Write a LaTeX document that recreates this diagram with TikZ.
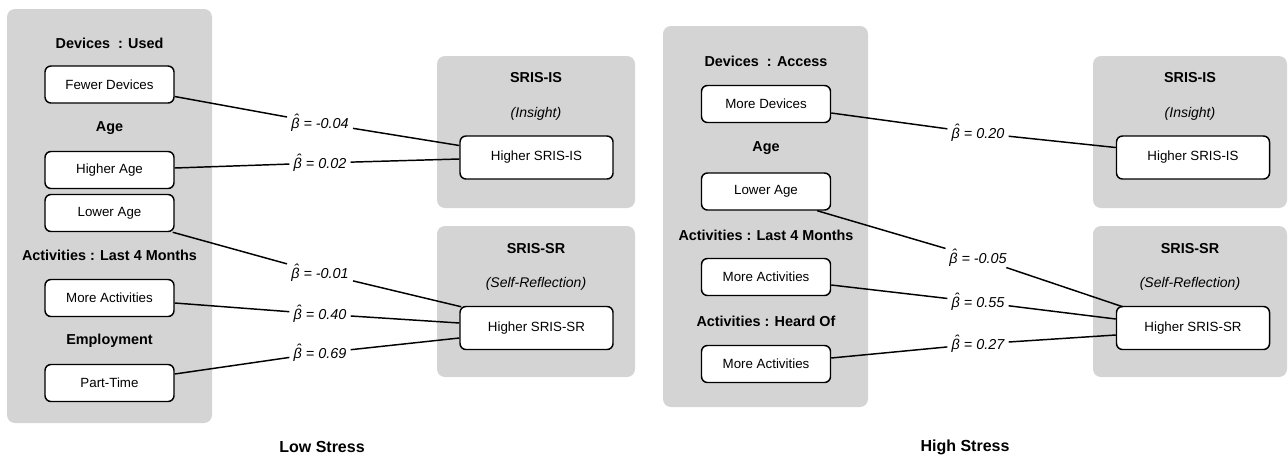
\documentclass[tikz,border=0pt]{standalone}
\usepackage{fontspec}
\setmainfont{Liberation Sans}
\usetikzlibrary{calc}
\definecolor{panelgray}{RGB}{212,212,212}
\newcommand{\bhat}{\ooalign{β\cr\hidewidth\kern0.12em\raisebox{0.22em}{ˆ}\hidewidth\cr}}
\tikzset{
  panel/.style={fill=panelgray, draw=none, rounded corners=6pt, inner sep=0pt},
  srcbox/.style={draw=black, fill=white, line width=1.1pt, rounded corners=4.5pt, minimum width=96.75pt, minimum height=27.75pt, inner sep=0pt, font=\fontsize{10}{12}\selectfont},
  tgtbox/.style={draw=black, fill=white, line width=1.1pt, rounded corners=4.5pt, minimum width=114.75pt, minimum height=32.25pt, inner sep=0pt, font=\fontsize{10}{12}\selectfont},
  head/.style={font=\fontsize{10.8}{13}\selectfont\bfseries, inner sep=0pt},
  sub/.style={font=\fontsize{10.5}{13}\selectfont\itshape, inner sep=0pt},
  coef/.style={font=\fontsize{10.8}{13}\selectfont\itshape, inner sep=3pt},
  captext/.style={font=\fontsize{12}{14}\selectfont\bfseries, inner sep=0pt},
  link/.style={line width=1.1pt}
}
\begin{document}
\begin{tikzpicture}[x=0.75pt,y=-0.75pt]
\useasboundingbox (0,0) rectangle (1288,458);
% ---------- Low stress ----------
\node[panel, minimum width=153.75pt, minimum height=310.5pt] (lp) at (109.5,216) {};
\node[panel, minimum width=148.5pt, minimum height=114pt] (lisp) at (536,132) {};
\node[panel, minimum width=148.5pt, minimum height=113.25pt] (lsrp) at (536,301.5) {};

\node[head] (lh1) at (109.5,43) {Devices\ \ : Used};
\node[srcbox] (lfd) at (109.5,84.5) {Fewer Devices};
\node[head] (lh2) at (109.5,128) {Age};
\node[srcbox] (lha) at (109.5,170) {Higher Age};
\node[srcbox] (lla) at (109.5,213) {Lower Age};
\node[head] (lh3) at (109.5,255) {Activities : Last 4 Months};
\node[srcbox] (lma) at (109.5,298) {More Activities};
\node[head] (lh4) at (109.5,341) {Employment};
\node[srcbox] (lpt) at (109.5,383) {Part-Time};

\node[head] (lis) at (536,78) {SRIS-IS};
\node[sub] (lisi) at (536,114) {(Insight)};
\node[tgtbox] (lhis) at (536.5,157.5) {Higher SRIS-IS};
\node[head] (lsr) at (536,249) {SRIS-SR};
\node[sub] (lsrs) at (536,284) {(Self-Reflection)};
\node[tgtbox] (lhsr) at (536.5,328) {Higher SRIS-SR};

\node[coef] (c1) at (320,123) {\bhat{} = -0.04};
\node[coef] (c2) at (320,163) {\bhat{} = 0.02};
\node[coef] (c3) at (320,273) {\bhat{} = -0.01};
\node[coef] (c4) at (320,314) {\bhat{} = 0.40};
\node[coef] (c5) at (320,353) {\bhat{} = 0.69};

\draw[link] ($(lfd.east)+(0,12)$) -- (c1) -- ($(lhis.west)+(0,-12)$);
\draw[link] ($(lha.east)+(0,-2)$) -- (c2) -- ($(lhis.west)+(0,1.5)$);
\draw[link] ($(lla.south east)+(-2,0)$) -- (c3) -- ($(lhsr.north west)+(2,1)$);
\draw[link] ($(lma.east)+(0,5)$) -- (c4) -- ($(lhsr.west)+(0,-5)$);
\draw[link] ($(lpt.east)+(0,-9)$) -- (c5) -- ($(lhsr.west)+(0,10)$);

\node[captext] (low) at (322,447) {Low Stress};

% ---------- High stress ----------
\node[panel, minimum width=153.75pt, minimum height=285.75pt] (hp) at (765.5,216.5) {};
\node[panel, minimum width=145.5pt, minimum height=114pt] (hisp) at (1190,132) {};
\node[panel, minimum width=145.5pt, minimum height=113.25pt] (hsrp) at (1190,301.5) {};

\node[head] (hh1) at (766,61) {Devices\ \ : Access};
\node[srcbox] (hmd) at (766,104) {More Devices};
\node[head] (hh2) at (766,148) {Age};
\node[srcbox] (hla) at (766,191.5) {Lower Age};
\node[head] (hh3) at (766,235) {Activities : Last 4 Months};
\node[srcbox] (hma) at (766,277) {More Activities};
\node[head] (hh4) at (766,321) {Activities : Heard Of};
\node[srcbox] (hmh) at (766,364) {More Activities};

\node[head] (his) at (1190,78) {SRIS-IS};
\node[sub] (hisi) at (1190,114) {(Insight)};
\node[tgtbox] (hhis) at (1193,157.5) {Higher SRIS-IS};
\node[head] (hsr) at (1190,249) {SRIS-SR};
\node[sub] (hsrs) at (1190,284) {(Self-Reflection)};
\node[tgtbox] (hhsr) at (1193,328) {Higher SRIS-SR};

\node[coef] (d1) at (978,133) {\bhat{} = 0.20};
\node[coef] (d2) at (978,258) {\bhat{} = -0.05};
\node[coef] (d3) at (978,302) {\bhat{} = 0.55};
\node[coef] (d4) at (978,344) {\bhat{} = 0.27};

\draw[link] ($(hmd.east)+(0,9)$) -- (d1) -- ($(hhis.west)+(0,-10)$);
\draw[link] ($(hla.south east)+(-14,0)$) -- (d2) -- ($(hhsr.north west)+(7,1)$);
\draw[link] ($(hma.east)+(0,8)$) -- (d3) -- ($(hhsr.west)+(0,-9)$);
\draw[link] ($(hmh.east)+(0,-6)$) -- (d4) -- ($(hhsr.west)+(0,7)$);

\node[captext] (high) at (965,447) {High Stress};
\end{tikzpicture}
\end{document}
